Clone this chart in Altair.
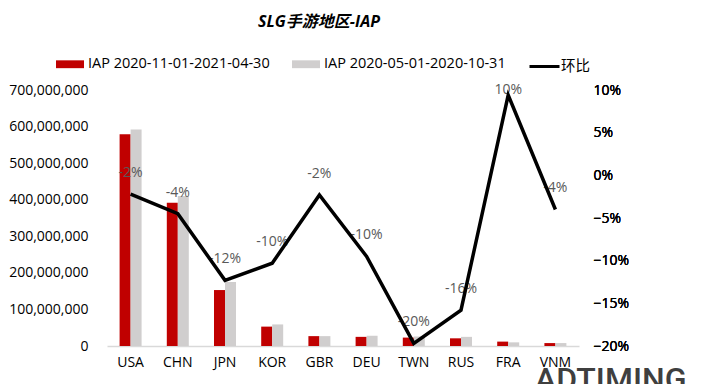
import altair as alt
import pandas as pd

countries = ["USA", "CHN", "JPN", "KOR", "GBR", "DEU", "TWN", "RUS", "FRA", "VNM"]
series_recent = "IAP 2020-11-01-2021-04-30"
series_prev = "IAP 2020-05-01-2020-10-31"
iap_recent = [579e6, 392e6, 153e6, 53e6, 27e6, 25e6, 23e6, 21e6, 12e6, 8e6]
iap_prev = [592e6, 410e6, 175e6, 59e6, 27e6, 28e6, 26e6, 25e6, 10e6, 8e6]
change = [-0.022, -0.045, -0.123, -0.103, -0.023, -0.095, -0.197, -0.158, 0.094, -0.040]
change_labels = ["-2%", "-4%", "-12%", "-10%", "-2%", "-10%", "-20%", "-16%", "10%", "-4%"]
left_ticks = [0, 100e6, 200e6, 300e6, 400e6, 500e6, 600e6, 700e6]
right_ticks = [-0.20, -0.15, -0.10, -0.05, 0.0, 0.05, 0.10]
logo_text = ["ADTIMING"]

FONT = "Open Sans, Noto Sans CJK SC, sans-serif"

bar_rows = []
for c, a, b in zip(countries, iap_recent, iap_prev):
    bar_rows.append({"country": c, "series": series_recent, "value": a})
    bar_rows.append({"country": c, "series": series_prev, "value": b})
bars_df = pd.DataFrame(bar_rows)
line_df = pd.DataFrame({"country": countries, "change": change, "label": change_labels,
                        "metric": ["环比"] * len(countries)})

x_enc = alt.X("country:N", sort=countries, title=None,
              scale=alt.Scale(paddingInner=0.534, paddingOuter=0.267),
              axis=alt.Axis(labelAngle=0, ticks=False, domainColor="#D9D9D9", domainWidth=1.5,
                            labelFontSize=14, labelFont=FONT, labelColor="#000000", labelPadding=9))

bars = alt.Chart(bars_df).mark_bar().encode(
    x=x_enc,
    xOffset=alt.XOffset("series:N", sort=[series_recent, series_prev]),
    y=alt.Y("value:Q", title=None,
            scale=alt.Scale(domain=[0, 700e6], nice=False),
            axis=alt.Axis(values=left_ticks, format=",d", grid=False, domain=False, ticks=False,
                          labelFontSize=14, labelFont=FONT, labelColor="#000000", labelPadding=19)),
    color=alt.Color("series:N", sort=[series_recent, series_prev],
                    scale=alt.Scale(domain=[series_recent, series_prev], range=["#C00000", "#D0CECE"]),
                    legend=alt.Legend(orient="none", legendX=-51, legendY=-40, direction="horizontal",
                                      title=None, symbolType="M-1,-0.28H1V0.28H-1Z", symbolSize=784,
                                      symbolStrokeWidth=0, labelFontSize=14.5, labelFont=FONT,
                                      labelColor="#000000", columnPadding=22, labelOffset=4,
                                      labelLimit=400)),
)

y_right = alt.Y("change:Q", title=None,
                scale=alt.Scale(domain=[-0.2, 0.1], nice=False),
                axis=alt.Axis(orient="right", values=right_ticks, format=".0%", grid=False, domain=False,
                              ticks=False, labelFontSize=14, labelFont=FONT, labelColor="#000000",
                              labelPadding=14))

labels = alt.Chart(line_df).transform_filter(alt.datum.country != "FRA").mark_text(
    dy=-21, fontSize=14, font=FONT, color="#595959"
).encode(
    x=alt.X("country:N", sort=countries),
    y=y_right,
    text="label:N",
)

label_top = alt.Chart(line_df).transform_filter(alt.datum.country == "FRA").mark_text(
    dy=-5, fontSize=14, font=FONT, color="#595959"
).encode(
    x=alt.X("country:N", sort=countries),
    y=y_right,
    text="label:N",
)

line = alt.Chart(line_df).mark_line(strokeWidth=3.5).encode(
    x=alt.X("country:N", sort=countries),
    y=y_right,
    stroke=alt.Stroke("metric:N", scale=alt.Scale(range=["#000000"]),
                      legend=alt.Legend(orient="none", legendX=421, legendY=-40, title=None,
                                        symbolType="stroke", symbolSize=900, symbolStrokeWidth=3,
                                        labelFontSize=14.5, labelFont=FONT, labelColor="#000000",
                                        labelOffset=0)),
)

logo = alt.Chart(pd.DataFrame({"t": logo_text})).mark_text(
    align="left", baseline="alphabetic", fontSize=32, font="Roboto", fontWeight=500, color="#3F3F3F"
).encode(x=alt.value(428), y=alt.value(300), text="t:N")

chart = alt.layer(bars, labels, label_top, line, logo).resolve_scale(y="independent").properties(
    width=472, height=256,
    title=alt.Title("SLG手游地区-IAP", fontSize=16, fontStyle="italic", fontWeight="bold",
                    font=FONT, color="#000000", anchor="middle", dx=-24, offset=20),
    autosize=alt.AutoSizeParams(type="none"),
    padding={"left": 99, "top": 82, "right": 112, "bottom": 40},
).configure_view(stroke=None)

chart.save("out.html", embed_options={"renderer": "svg", "actions": False})
